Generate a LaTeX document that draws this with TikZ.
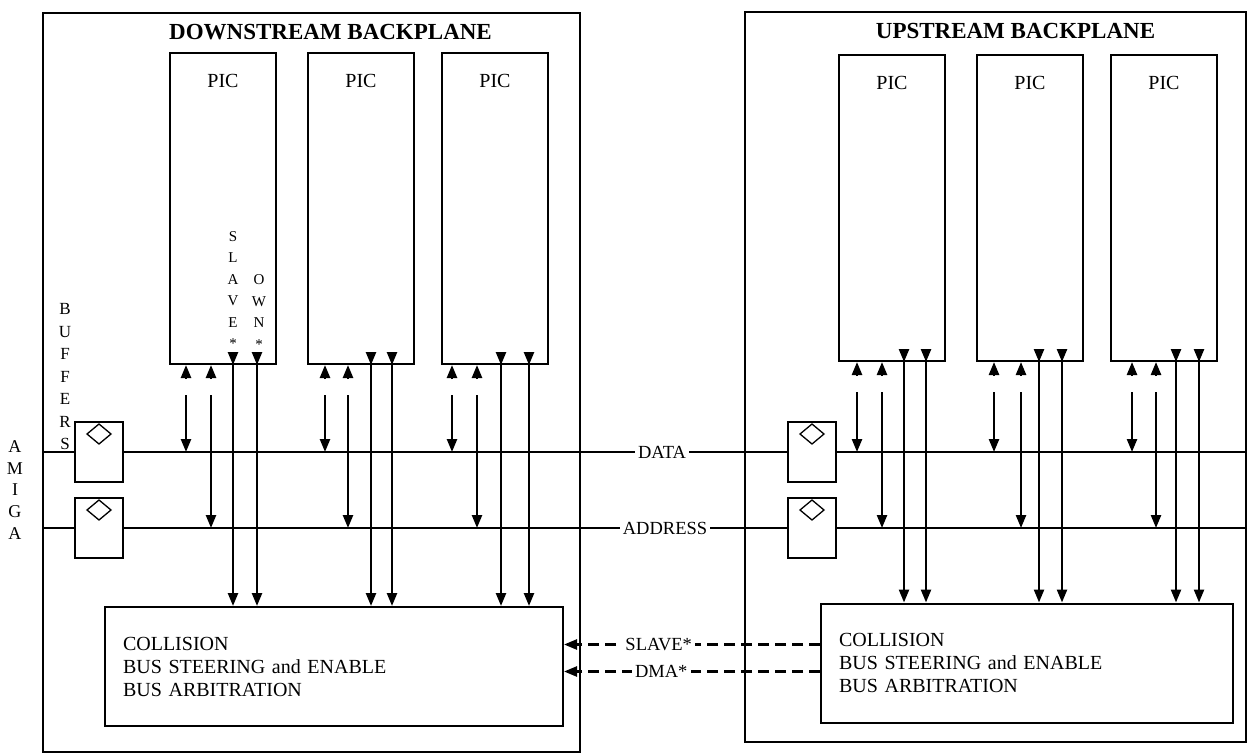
\documentclass[tikz,border=0pt]{standalone}
\usepackage{fontspec}
\setmainfont{Liberation Serif}
\usetikzlibrary{arrows.meta,positioning,calc}

\begin{document}
\begin{tikzpicture}[
  x=1pt, y=-1pt,
  frame/.style={draw, line width=2pt, inner sep=0pt},
  plane/.style={font=\fontsize{23}{27}\selectfont\bfseries},
  picbox/.style={draw, line width=2pt, anchor=north, minimum width=106pt, minimum height=311pt, inner sep=0pt,
    label={[anchor=north, yshift=-19pt, font=\fontsize{20}{22}\selectfont]north:PIC}},
  buffer/.style={draw, line width=2pt, minimum width=48pt, minimum height=60pt, inner sep=0pt},
  ctrl/.style={draw, line width=2pt, align=left, text width=422pt, inner xsep=18pt, minimum height=119pt, font=\fontsize{20}{23}\selectfont},
  lbl/.style={font=\fontsize{18.5}{20}\selectfont, inner sep=3pt},
  vtext/.style={align=center, inner sep=0pt, font=\fontsize{17}{22.5}\selectfont},
  bus/.style={line width=2.4pt},
  arr/.style={-{Triangle[length=13pt, width=10pt]}, line width=2.4pt},
  sig/.style={-{Triangle[length=13pt, width=10pt]}, line width=2.4pt, dash pattern=on 11pt off 6pt}
]
\useasboundingbox (0,0) rectangle (1249,754);
\node[frame, minimum width=537pt, minimum height=739pt] (down) at (311.5,382.5) {};
\node[frame, minimum width=501pt, minimum height=730pt] (up) at (995.5,377) {};
\node[plane, below=9pt of down.north, xshift=19pt] (dtitle) {DOWNSTREAM BACKPLANE};
\node[plane, below=9pt of up.north, xshift=20pt] (utitle) {UPSTREAM BACKPLANE};

\node[picbox] (d1) at (223,52) {};
\node[picbox] (d2) at (361,52) {};
\node[picbox] (d3) at (495,52) {};
\node[picbox, minimum height=306pt] (u1) at (892,54) {};
\node[picbox, minimum height=306pt] (u2) at (1030,54) {};
\node[picbox, minimum height=306pt] (u3) at (1164,54) {};

\node[buffer] (db1) at (99,452) {};
\node[buffer] (db2) at (99,528) {};
\node[buffer] (ub1) at (812,452) {};
\node[buffer] (ub2) at (812,528) {};

\node[ctrl] (dc) at (334,666.5) {COLLISION\\BUS STEERING and ENABLE\\BUS ARBITRATION};
\node[ctrl, text width=376pt] (uc) at (1027,663) {COLLISION\\BUS STEERING and ENABLE\\BUS ARBITRATION};

\node[lbl] (data) at (662,452) {DATA};
\node[lbl] (addr) at (665,528) {ADDRESS};

\node[vtext, font=\fontsize{18}{21.7}\selectfont] (amiga) at (15,490) {A\\M\\I\\G\\A};
\node[vtext] (buf) at (65,377) {B\\U\\F\\F\\E\\R\\S};
\node[vtext, font=\fontsize{15}{21.5}\selectfont] (slave) at (233,290) {S\\L\\A\\V\\E\\*};
\node[vtext, font=\fontsize{15}{21.5}\selectfont] (own) at (259,312) {O\\W\\N\\*};

\draw[bus] (down.west |- db1) -- (db1);
\draw[bus] (db1) -- (data);
\draw[bus] (data) -- (ub1);
\draw[bus] (ub1) -- (up.east |- ub1);
\draw[bus] (down.west |- db2) -- (db2);
\draw[bus] (db2) -- (addr);
\draw[bus] (addr) -- (ub2);
\draw[bus] (ub2) -- (up.east |- ub2);

\foreach \b in {db1,db2,ub1,ub2}
  \draw[line width=1.3pt] ($(\b.north)+(0,3)$) -- ++(12,10) -- ++(-12,10) -- ++(-12,-10) -- cycle;

\foreach \pp/\cc/\dat/\adr/\oa/\ob/\oc/\od in {
  d1/dc/db1/db2/17/42/64/88, d2/dc/db1/db2/18/41/64/85, d3/dc/db1/db2/11/36/60/88,
  u1/uc/ub1/ub2/19/44/66/88, u2/uc/ub1/ub2/18/45/63/86, u3/uc/ub1/ub2/22/46/66/89}{
  \coordinate (pa) at ($(\pp.south west)+(\oa,0)$);
  \coordinate (pb) at ($(\pp.south west)+(\ob,0)$);
  \coordinate (pc) at ($(\pp.south west)+(\oc,0)$);
  \coordinate (pd) at ($(\pp.south west)+(\od,0)$);
  \draw[arr] ($(pa)+(0,14)$) -- (pa);
  \draw[arr] ($(pb)+(0,14)$) -- (pb);
  \draw[arr] ($(pa)+(0,30)$) -- (pa |- \dat);
  \draw[arr] ($(pb)+(0,30)$) -- (pb |- \adr);
  \draw[arr] ($(pc)+(0,-13)$) -- (pc);
  \draw[arr] ($(pd)+(0,-13)$) -- (pd);
  \draw[arr] (pc) -- (pc |- \cc.north);
  \draw[arr] (pd) -- (pd |- \cc.north);
}

\coordinate (s1) at ($(uc.north west)+(0,42)$);
\coordinate (s2) at ($(uc.north west)+(0,69)$);
\draw[sig] (s1) -- node[lbl, pos=0.63, fill=white] (slv) {SLAVE*} (s1 -| dc.east);
\draw[sig] (s2) -- node[lbl, pos=0.62, fill=white] (dma) {DMA*} (s2 -| dc.east);
\end{tikzpicture}
\end{document}
